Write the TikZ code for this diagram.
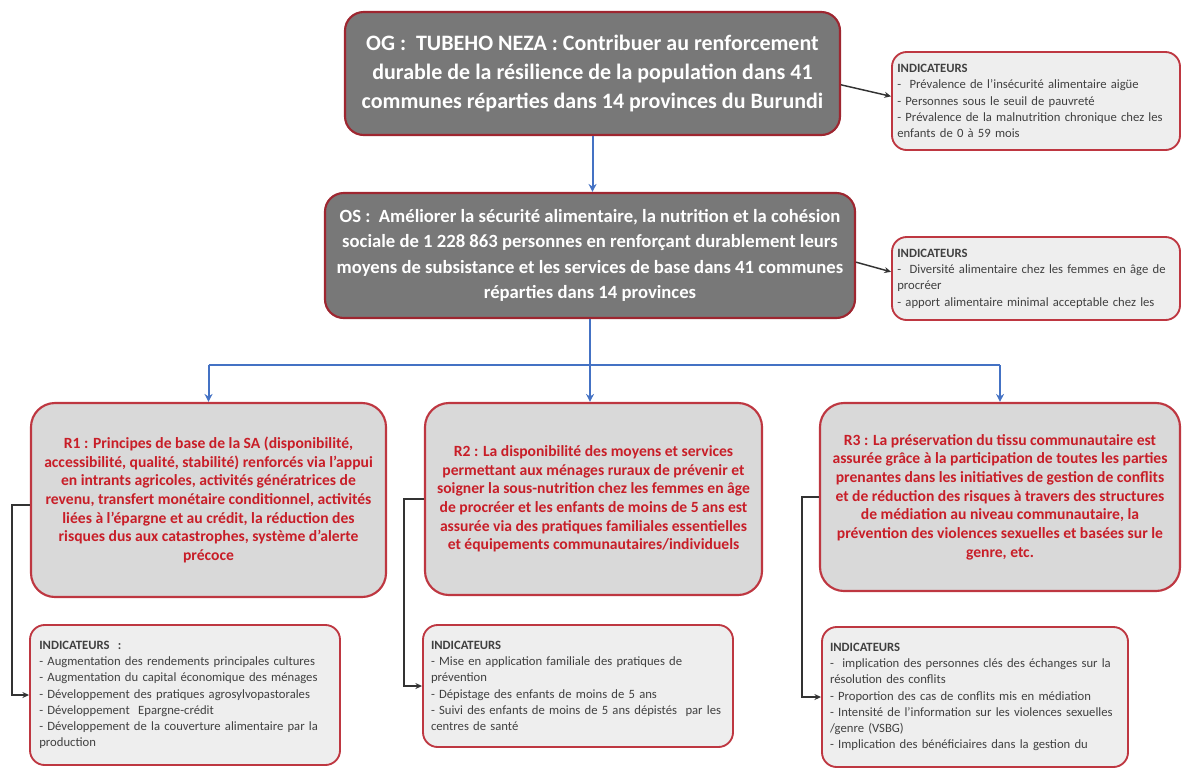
\documentclass[tikz,border=0pt]{standalone}
\usepackage{fontspec}
\setmainfont{Carlito}
\usetikzlibrary{arrows.meta,calc}
\definecolor{ogfill}{RGB}{120,120,120}
\definecolor{ogborder}{RGB}{158,38,48}
\definecolor{rborder}{RGB}{190,55,65}
\definecolor{rfill}{RGB}{217,217,217}
\definecolor{ifill}{RGB}{238,238,238}
\definecolor{rtext}{RGB}{200,30,40}
\definecolor{itext}{RGB}{64,64,64}
\definecolor{lineblue}{RGB}{68,114,196}
\tikzset{
  darkbox/.style={draw=ogborder, line width=1.6pt, fill=ogfill, rounded corners=14pt,
    text=white, align=center, inner sep=0pt},
  rbox/.style={draw=rborder, line width=1.6pt, fill=rfill, rounded corners=18pt,
    text=rtext, align=center, inner sep=0pt,
    font=\bfseries\fontsize{11.7}{14}\selectfont},
  ibox/.style={draw=rborder, line width=1.4pt, fill=ifill, rounded corners=11pt,
    text=itext, align=left, inner xsep=6pt, inner ysep=0pt,
    font=\fontsize{9.5}{12.2}\selectfont},
  blueline/.style={draw=lineblue, line width=1.5pt},
  bluearr/.style={blueline, -{Stealth[length=6pt,width=6pt]}},
  blackarr/.style={draw=black!80, line width=1.1pt, -{Stealth[length=5pt,width=4.5pt]}}
}
\begin{document}
\begin{tikzpicture}[x=0.75pt,y=-0.75pt]
\useasboundingbox (0,0) rectangle (1189,769);

\node[darkbox, minimum width=371.25pt, minimum height=92.25pt,
  font=\bfseries\fontsize{16.5}{22}\selectfont] (og) at (592.5,73.5)
  {OG :~~TUBEHO NEZA : Contribuer au renforcement\\durable de la résilience de la population dans 41\\communes réparties dans 14 provinces du Burundi};

\node[ibox, inner xsep=4pt, text width=208pt, minimum height=73.5pt] (ogi) at (1036,101)
  {\textbf{INDICATEURS}\\-~~Prévalence de l’insécurité alimentaire aigüe\\- Personnes sous le seuil de pauvreté\\- Prévalence de la malnutrition chronique chez les\\enfants de 0 à 59 mois};

\node[darkbox, minimum width=397.5pt, minimum height=93.75pt,
  font=\bfseries\fontsize{14}{19}\selectfont] (os) at (590,255.5)
  {OS :~~Améliorer la sécurité alimentaire, la nutrition et la cohésion\\sociale de 1 228 863 personnes en renforçant durablement leurs\\moyens de subsistance et les services de base dans 41 communes\\réparties dans 14 provinces};

\node[ibox, inner xsep=4pt, text width=208pt, minimum height=62.25pt] (osi) at (1036,278.5)
  {\textbf{INDICATEURS}\\-~~Diversité alimentaire chez les femmes en âge de\\procréer\\- apport alimentaire minimal acceptable chez les};

\node[rbox, minimum width=266.25pt, minimum height=145.5pt] (r1) at (208.5,500)
  {R1 : Principes de base de la SA (disponibilité,\\accessibilité, qualité, stabilité) renforcés via l’appui\\en intrants agricoles, activités génératrices de\\revenu, transfert monétaire conditionnel, activités\\liées à l’épargne et au crédit, la réduction des\\risques dus aux catastrophes, système d’alerte\\précoce};

\node[rbox, minimum width=252.75pt, minimum height=144pt] (r2) at (593.5,499)
  {R2 : La disponibilité des moyens et services\\permettant aux ménages ruraux de prévenir et\\soigner la sous-nutrition chez les femmes en âge\\de procréer et les enfants de moins de 5 ans est\\assurée via des pratiques familiales essentielles\\et équipements communautaires/individuels};

\node[rbox, minimum width=270pt, minimum height=141pt] (r3) at (1000,497)
  {R3 : La préservation du tissu communautaire est\\assurée grâce à la participation de toutes les parties\\prenantes dans les initiatives de gestion de conflits\\et de réduction des risques à travers des structures\\de médiation au niveau communautaire, la\\prévention des violences sexuelles et basées sur le\\genre, etc.};

\node[ibox, inner xsep=7pt, text width=218.5pt, minimum height=105pt] (r1i) at (185,695)
  {\textbf{INDICATEURS~~:}\\- Augmentation des rendements principales cultures\\- Augmentation du capital économique des ménages\\- Développement des pratiques agrosylvopastorales\\- Développement~~Epargne-crédit\\- Développement de la couverture alimentaire par la\\production};

\node[ibox, text width=220.5pt, minimum height=91.5pt] (r2i) at (578,686)
  {\textbf{INDICATEURS}\\- Mise en application familiale des pratiques de\\prévention\\- Dépistage des enfants de moins de 5 ans\\- Suivi des enfants de moins de 5 ans dépistés~~par les\\centres de santé};

\node[ibox, text width=217.5pt, minimum height=105pt] (r3i) at (975,697)
  {\textbf{INDICATEURS}\\-~~implication des personnes clés des échanges sur la\\résolution des conflits\\- Proportion des cas de conflits mis en médiation\\- Intensité de l’information sur les violences sexuelles\\/genre (VSBG)\\- Implication des bénéficiaires dans la gestion du};

% blue tree
\draw[bluearr] (og.south) -- (og.south |- os.north);
\coordinate (bar) at (593,365);
\draw[bluearr] (os.south) -- (os.south |- r2.north);
\draw[blueline] (bar -| r1.north) -- (bar -| r3.north);
\draw[bluearr] (bar -| r1.north) -- (r1.north);
\draw[bluearr] (bar -| r3.north) -- (r3.north);

% indicator connectors
\draw[blackarr] ([yshift=-8.5pt]og.east) -- ([yshift=3.5pt]ogi.west);
\draw[blackarr] ([yshift=-5pt]os.east) -- ([yshift=5pt]osi.west);
\draw[blackarr] ([yshift=-3.75pt]r1.west) -- ++(-18,0) |- (r1i.west);
\draw[blackarr] (r2.west) -- ++(-20,0) |- (r2i.west);
\draw[blackarr] (r3.west) -- ++(-17,0) |- (r3i.west);
\end{tikzpicture}
\end{document}
